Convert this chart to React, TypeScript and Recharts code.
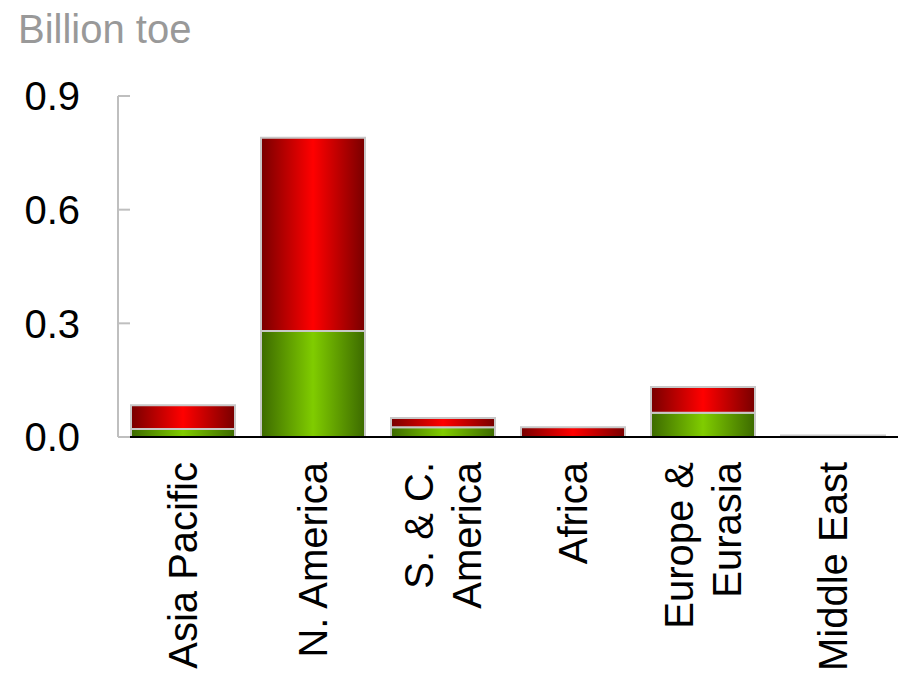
import React from 'react';
import { BarChart, Bar, XAxis, YAxis } from 'recharts';

// regions along the x axis; line breaks mark where the rotated label wraps
const regions = ['Asia Pacific', 'N. America', 'S. & C.\nAmerica', 'Africa', 'Europe &\nEurasia', 'Middle East'];
// lower (green) and upper (red) parts of each stacked bar, billion toe
const greenPart = [0.021, 0.28, 0.026, 0, 0.064, 0.002];
const redPart = [0.063, 0.51, 0.024, 0.026, 0.068, 0.002];
const yTicks = [0, 0.3, 0.6, 0.9];

const data = regions.map((name, i) => ({ name, green: greenPart[i], red: redPart[i] }));

const FONT = '"Liberation Sans", Arial, sans-serif';

const YTick = (props: any) => {
  const { x, y, payload } = props;
  const axisX = x + 38;
  return (
    <g>
      <line x1={axisX} x2={axisX + 12} y1={y} y2={y} stroke="#bfbfbf" strokeWidth={2} />
      <text x={x} y={y} dy="0.36em" textAnchor="end" fontSize={40} fontFamily={FONT} fill="#000">
        {payload.value.toFixed(1)}
      </text>
    </g>
  );
};

const XTick = (props: any) => {
  const { x, y, payload } = props;
  const lines = String(payload.value).split('\n');
  const lh = 48;
  const top = y + 17;
  return (
    <text
      transform={`rotate(-90, ${x}, ${top})`}
      x={x}
      y={top}
      textAnchor="end"
      fontSize={40}
      fontFamily={FONT}
      fill="#000"
    >
      {lines.map((l, i) => (
        <tspan key={i} x={x} dy={i === 0 ? -((lines.length - 1) / 2) * lh + 14 : lh}>
          {l}
        </tspan>
      ))}
    </text>
  );
};

export default function App() {
  return (
    <div style={{ position: 'absolute', left: 0, top: 0, width: 898, height: 679, background: '#fff' }}>
      <div
        style={{
          position: 'absolute',
          left: 18,
          top: 9,
          fontFamily: FONT,
          fontSize: 40,
          color: '#999999',
          lineHeight: 1,
        }}
      >
        Billion toe
      </div>
      <BarChart
        width={898}
        height={679}
        data={data}
        margin={{ top: 96, right: 0, bottom: 0, left: 8 }}
        barCategoryGap="10%"
      >
        <defs>
          <linearGradient id="gradRed" x1="0" y1="0" x2="1" y2="0">
            <stop offset="0%" stopColor="#780000" />
            <stop offset="50%" stopColor="#ff0000" />
            <stop offset="100%" stopColor="#780000" />
          </linearGradient>
          <linearGradient id="gradGreen" x1="0" y1="0" x2="1" y2="0">
            <stop offset="0%" stopColor="#3c6a00" />
            <stop offset="50%" stopColor="#80cc00" />
            <stop offset="100%" stopColor="#3c6a00" />
          </linearGradient>
        </defs>
        <XAxis
          dataKey="name"
          height={242}
          interval={0}
          axisLine={{ stroke: '#000', strokeWidth: 2 }}
          tickLine={false}
          tick={<XTick />}
        />
        <YAxis
          type="number"
          domain={[0, 0.9]}
          ticks={yTicks}
          width={110}
          tickSize={0}
          tickMargin={38}
          axisLine={{ stroke: '#bfbfbf', strokeWidth: 2 }}
          tickLine={false}
          tick={<YTick />}
        />
        <Bar dataKey="green" stackId="a" fill="url(#gradGreen)" stroke="#c8c8c8" strokeWidth={2} isAnimationActive={false} />
        <Bar dataKey="red" stackId="a" fill="url(#gradRed)" stroke="#c8c8c8" strokeWidth={2} isAnimationActive={false} />
      </BarChart>
    </div>
  );
}
